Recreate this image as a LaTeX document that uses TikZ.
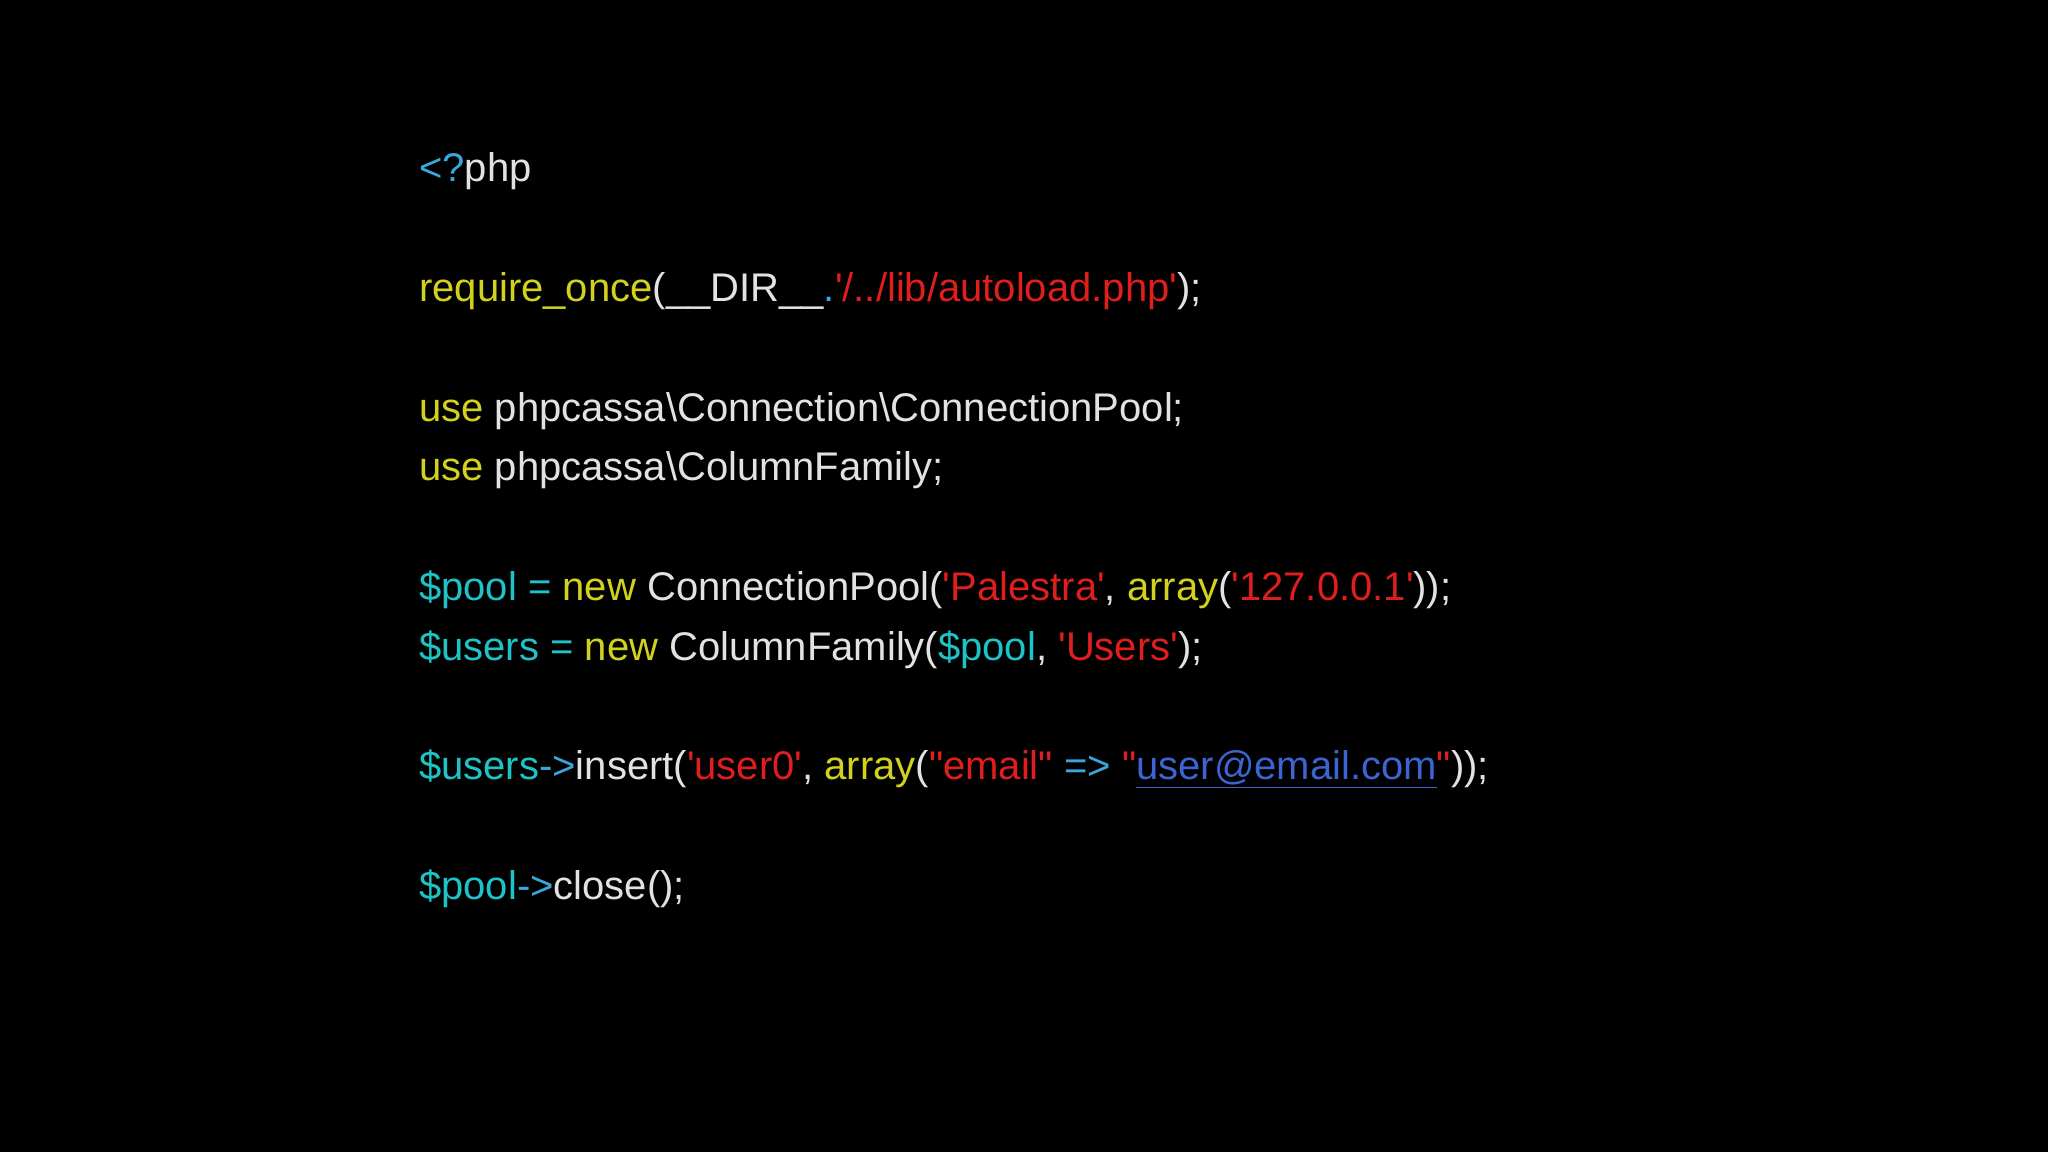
\documentclass[tikz,border=0pt]{standalone}
\usepackage{fontspec}
\setmainfont{Liberation Sans}
\definecolor{codeplain}{HTML}{E2E2E2}
\definecolor{codekey}{HTML}{D2D21E}
\definecolor{codevar}{HTML}{1EC3C8}
\definecolor{codestr}{HTML}{E01E1E}
\definecolor{codeop}{HTML}{3AA6DC}
\definecolor{codelink}{HTML}{3C64D2}
\newcommand{\kw}[1]{\textcolor{codekey}{#1}}
\newcommand{\vr}[1]{\textcolor{codevar}{#1}}
\newcommand{\st}[1]{\textcolor{codestr}{#1}}
\newcommand{\op}[1]{\textcolor{codeop}{#1}}
\newcommand{\sq}{\textquotesingle}
\newcommand{\dq}{\textquotedbl}
\begin{document}
\begin{tikzpicture}[x=1pt,y=1pt,
  codeline/.style={anchor=base west,inner sep=0pt,text=codeplain,
    font=\fontsize{40}{48}\selectfont}]
\fill[black] (0,0) rectangle (2048,1152);
\useasboundingbox (0,0) rectangle (2048,1152);
% one node per printed line
\node[codeline] (l0) at (419,970) {\op{<?}php};
\node[codeline] (l1) at (419,850.4) {\kw{require\_once}(\_\_DIR\_\_\op{.}\st{\sq/../lib/autoload.php\sq});};
\node[codeline] (l2) at (419,730.8) {\kw{use} phpcassa\textbackslash Connection\textbackslash ConnectionPool;};
\node[codeline] (l3) at (419,671) {\kw{use} phpcassa\textbackslash ColumnFamily;};
\node[codeline] (l4) at (419,551.4) {\vr{\$pool = }\kw{new} ConnectionPool(\st{\sq Palestra\sq}, \kw{array}(\st{\sq127.0.0.1\sq}));};
\node[codeline] (l5) at (419,491.6) {\vr{\$users = }\kw{new} ColumnFamily(\vr{\$pool}, \st{\sq Users\sq});};
\node[codeline] (l6) at (419,372) {\vr{\$users}\op{->}insert(\st{\sq user0\sq}, \kw{array}(\st{\dq email\dq} \op{=>} \st{\dq}\textcolor{codelink}{\underline{user@email.com}}\st{\dq}));};
\node[codeline] (l7) at (419,252.4) {\vr{\$pool}\op{->}close();};
\end{tikzpicture}
\end{document}
